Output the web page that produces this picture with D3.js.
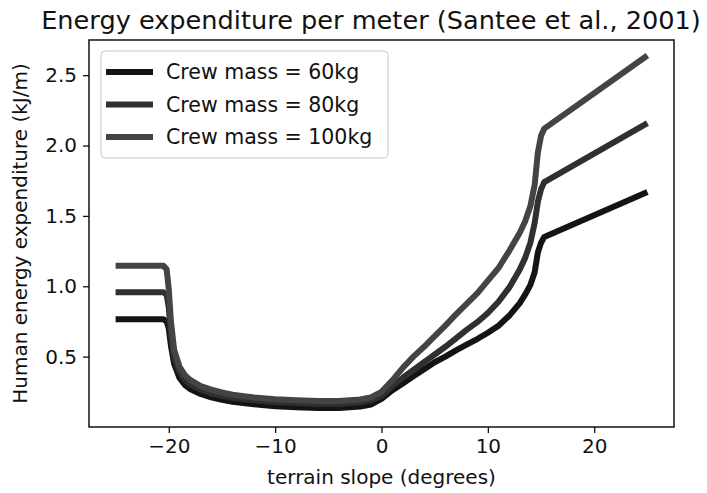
<!DOCTYPE html>
<html>
<head>
<meta charset="utf-8">
<script src="https://cdn.jsdelivr.net/npm/d3@7"></script>
<style>
  html, body { margin: 0; padding: 0; background: #fff; }
  svg { display: block; font-family: "DejaVu Sans", sans-serif; }
</style>
</head>
<body>
<svg id="chart" width="707" height="493"></svg>
<script>
// Terrain slope samples (degrees)
const slopes = [
  -25, -20.5, -20.2, -20.0, -19.8, -19.5, -19.0, -18.5, -18, -17, -16, -15, -14, -12, -10, -8, -6, -4, -2, -1,
  0, 1, 2, 3, 4, 5, 6, 7, 8, 9, 10, 11, 12, 13, 13.5, 14, 14.4, 14.7, 15, 15.3, 25
];

// Energy expenditure per meter (kJ/m) for each crew mass
const mass60 = [
  0.765, 0.765, 0.75, 0.70, 0.58, 0.45, 0.35, 0.30, 0.27, 0.235, 0.21, 0.193, 0.18, 0.162, 0.148, 0.14, 0.135, 0.135, 0.145, 0.16,
  0.20, 0.26, 0.31, 0.36, 0.41, 0.46, 0.50, 0.545, 0.585, 0.625, 0.67, 0.72, 0.79, 0.88, 0.94, 1.01, 1.10, 1.24, 1.31, 1.35, 1.67
];
const mass80 = [
  0.957, 0.957, 0.94, 0.85, 0.66, 0.50, 0.39, 0.335, 0.305, 0.265, 0.24, 0.222, 0.208, 0.19, 0.178, 0.17, 0.166, 0.166, 0.175, 0.19,
  0.22, 0.29, 0.35, 0.405, 0.46, 0.515, 0.57, 0.63, 0.69, 0.745, 0.81, 0.89, 0.99, 1.12, 1.20, 1.31, 1.45, 1.60, 1.69, 1.74, 2.16
];
const mass100 = [
  1.145, 1.145, 1.12, 0.98, 0.75, 0.55, 0.43, 0.37, 0.335, 0.29, 0.265, 0.245, 0.23, 0.21, 0.198, 0.19, 0.185, 0.185, 0.195, 0.21,
  0.25, 0.33, 0.42, 0.50, 0.57, 0.645, 0.72, 0.80, 0.875, 0.95, 1.04, 1.13, 1.25, 1.38, 1.46, 1.57, 1.72, 1.95, 2.07, 2.12, 2.64
];

const seriesNames = ["Crew mass = 60kg", "Crew mass = 80kg", "Crew mass = 100kg"];
const seriesValues = [mass60, mass80, mass100];
const seriesColors = ["#141414", "#303030", "#444444"];

const xTicks = [-20, -10, 0, 10, 20];
const yTicks = [0.5, 1.0, 1.5, 2.0, 2.5];

const titleText = "Energy expenditure per meter (Santee et al., 2001)";
const xLabel = "terrain slope (degrees)";
const yLabel = "Human energy expenditure (kJ/m)";

// Layout
const plot = { left: 89, right: 674, top: 40, bottom: 427 };
const fontSize = 20;

const svg = d3.select("#chart");

const x = d3.scaleLinear().domain([-27.5, 27.5]).range([plot.left, plot.right]);
const y = d3.scaleLinear().domain([0, 2.75]).range([plot.bottom, plot.top]);

// Curves
const line = d3.line()
  .x(d => x(d[0]))
  .y(d => y(d[1]));

const curves = svg.append("g").attr("class", "curves");
seriesValues.forEach((vals, i) => {
  curves.append("path")
    .datum(slopes.map((s, k) => [s, vals[k]]))
    .attr("d", line)
    .attr("fill", "none")
    .attr("stroke", seriesColors[i])
    .attr("stroke-width", 6)
    .attr("stroke-linejoin", "round")
    .attr("stroke-linecap", "butt");
});

// Axes
const xAxis = d3.axisBottom(x).tickValues(xTicks).tickSize(6).tickPadding(6)
  .tickFormat(d => d < 0 ? "\u2212" + Math.abs(d) : String(d));
const yAxis = d3.axisLeft(y).tickValues(yTicks).tickSize(6).tickPadding(6)
  .tickFormat(d3.format(".1f"));

const gx = svg.append("g").attr("transform", `translate(0,${plot.bottom})`).call(xAxis);
const gy = svg.append("g").attr("transform", `translate(${plot.left},0)`).call(yAxis);
[gx, gy].forEach(g => {
  g.select(".domain").remove();
  g.selectAll(".tick line").attr("stroke", "#111").attr("stroke-width", 1.3);
  g.selectAll(".tick text").attr("fill", "#111").attr("font-size", fontSize)
    .attr("font-family", "DejaVu Sans, sans-serif");
});

// Frame
svg.append("rect")
  .attr("x", plot.left).attr("y", plot.top)
  .attr("width", plot.right - plot.left).attr("height", plot.bottom - plot.top)
  .attr("fill", "none").attr("stroke", "#111").attr("stroke-width", 1.5);

// Legend
const legend = svg.append("g").attr("transform", "translate(101,51)");
legend.append("rect")
  .attr("width", 287).attr("height", 107).attr("rx", 4)
  .attr("fill", "#fff").attr("fill-opacity", 0.8)
  .attr("stroke", "#c8c8c8").attr("stroke-width", 1);
seriesNames.forEach((name, i) => {
  const cy = 21 + i * 32.5;
  legend.append("line")
    .attr("x1", 5).attr("x2", 52).attr("y1", cy).attr("y2", cy)
    .attr("stroke", seriesColors[i]).attr("stroke-width", 6);
  legend.append("text")
    .attr("x", 65).attr("y", cy).attr("dy", "0.36em")
    .attr("font-size", 20.5).attr("fill", "#111")
    .text(name);
});

// Titles
svg.append("text")
  .attr("x", 371).attr("y", 29)
  .attr("text-anchor", "middle").attr("font-size", 25.6).attr("fill", "#111")
  .text(titleText);
svg.append("text")
  .attr("x", (plot.left + plot.right) / 2).attr("y", 484)
  .attr("text-anchor", "middle").attr("font-size", fontSize).attr("fill", "#111")
  .text(xLabel);
svg.append("text")
  .attr("transform", `translate(27,${(plot.top + plot.bottom) / 2}) rotate(-90)`)
  .attr("text-anchor", "middle").attr("font-size", fontSize).attr("fill", "#111")
  .text(yLabel);
</script>
</body>
</html>
